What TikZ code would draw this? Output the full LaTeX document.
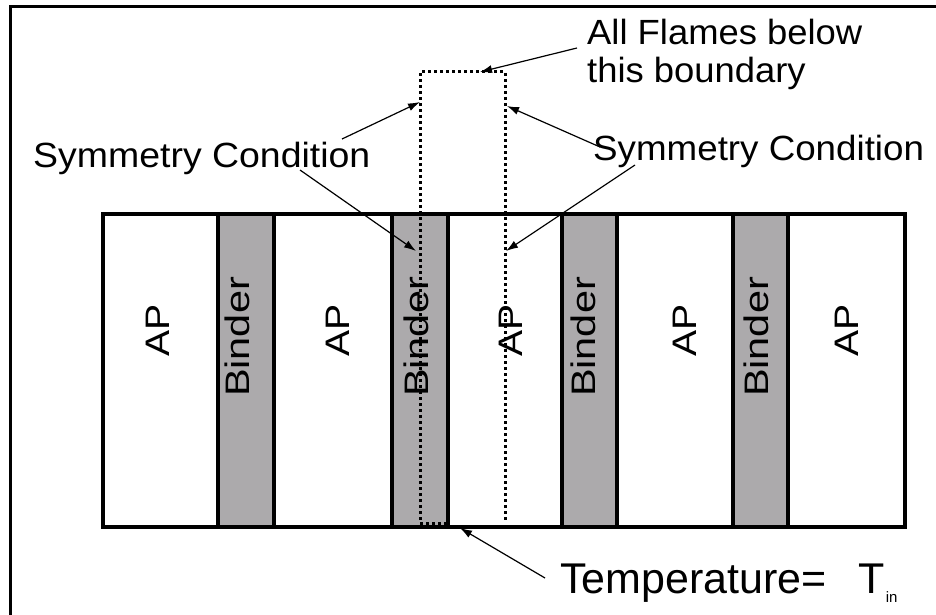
\documentclass[tikz,border=0pt]{standalone}
\usepackage{fontspec}
\usepackage{graphicx}
\setmainfont{Liberation Sans}
\usetikzlibrary{arrows.meta}
\definecolor{bindergray}{RGB}{172,170,172}
\begin{document}
\begin{tikzpicture}[x=1pt,y=-1pt,
  apcol/.style={draw=black,line width=3.5pt,fill=white},
  bindercol/.style={draw=black,line width=3.5pt,fill=bindergray},
  rotlabel/.style={rotate=90,inner sep=0pt,font=\fontsize{34}{40}\selectfont},
  lbl/.style={inner sep=0pt,anchor=base west,font=\fontsize{35}{40}\selectfont},
  pointer/.style={line width=1.2pt,-{Latex[length=12pt,width=8pt]}},
  boundary/.style={line width=3pt,dash pattern=on 3pt off 3pt}]
\useasboundingbox (0,0) rectangle (936,615);
\begin{scope}
\clip (0,0) rectangle (936,615);
\fill[white] (0,0) rectangle (936,615);
\draw[line width=3pt] (10,700) -- (10,7) -- (1000,7);
\end{scope}
% columns
\draw[apcol] (103,214) rectangle (218,527);
\draw[bindercol] (218,214) rectangle (274,527);
\draw[apcol] (274,214) rectangle (392,527);
\draw[bindercol] (392,214) rectangle (448,527);
\draw[apcol] (448,214) rectangle (562,527);
\draw[bindercol] (562,214) rectangle (617,527);
\draw[apcol] (617,214) rectangle (733,527);
\draw[bindercol] (733,214) rectangle (788,527);
\draw[apcol] (788,214) rectangle (905,527);
% column labels
\node[rotlabel] (ap1) at (158,330) {\scalebox{1.15}[1]{AP}};
\node[rotlabel] (b1) at (237,337) {\scalebox{1.22}[1]{Binder}};
\node[rotlabel] (ap2) at (338,330) {\scalebox{1.15}[1]{AP}};
\node[rotlabel] (b2) at (416,337) {\scalebox{1.22}[1]{Binder}};
\node[rotlabel] (ap3) at (511,330) {\scalebox{1.15}[1]{AP}};
\node[rotlabel] (b3) at (583,337) {\scalebox{1.22}[1]{Binder}};
\node[rotlabel] (ap4) at (685,330) {\scalebox{1.15}[1]{AP}};
\node[rotlabel] (b4) at (756,337) {\scalebox{1.22}[1]{Binder}};
\node[rotlabel] (ap5) at (847,330) {\scalebox{1.15}[1]{AP}};
% flame boundary
\draw[boundary] (447,523) -- (420,523) -- (420,72) -- (505,72) -- (505,522);
% text labels
\node[lbl] (flames1) at (587,45) {\scalebox{1.04}[1]{All Flames below}};
\node[lbl] (flames2) at (587,83) {\scalebox{1.04}[1]{this boundary}};
\node[lbl] (symL) at (33,167) {\scalebox{1.07}[1]{Symmetry Condition}};
\node[lbl] (symR) at (593,160) {\scalebox{1.05}[1]{Symmetry Condition}};
\node[lbl,font=\fontsize{43}{48}\selectfont] (temp) at (560,593) {Temperature=};
\node[lbl,font=\fontsize{43}{48}\selectfont] (tT) at (858,593) {T};
\node[lbl,anchor=base west,font=\fontsize{15}{18}\selectfont] (tin) at ([xshift=1pt]tT.east |- 0,602) {in};
% arrow coordinates
\coordinate (flS) at (577,48);
\coordinate (flE) at (480,72);
\coordinate (sl1S) at (342,139);
\coordinate (sl1E) at (420,102);
\coordinate (sl2S) at (300,170);
\coordinate (sl2E) at (416,251);
\coordinate (sr1S) at (600,147);
\coordinate (sr1E) at (507,106);
\coordinate (sr2S) at (635,165);
\coordinate (sr2E) at (506,251);
\coordinate (tS) at (545,578);
\coordinate (tE) at (460,528);
\draw[pointer] (flS) -- (flE);
\draw[pointer] (sl1S) -- (sl1E);
\draw[pointer] (sl2S) -- (sl2E);
\draw[pointer] (sr1S) -- (sr1E);
\draw[pointer] (sr2S) -- (sr2E);
\draw[pointer] (tS) -- (tE);
\end{tikzpicture}
\end{document}
